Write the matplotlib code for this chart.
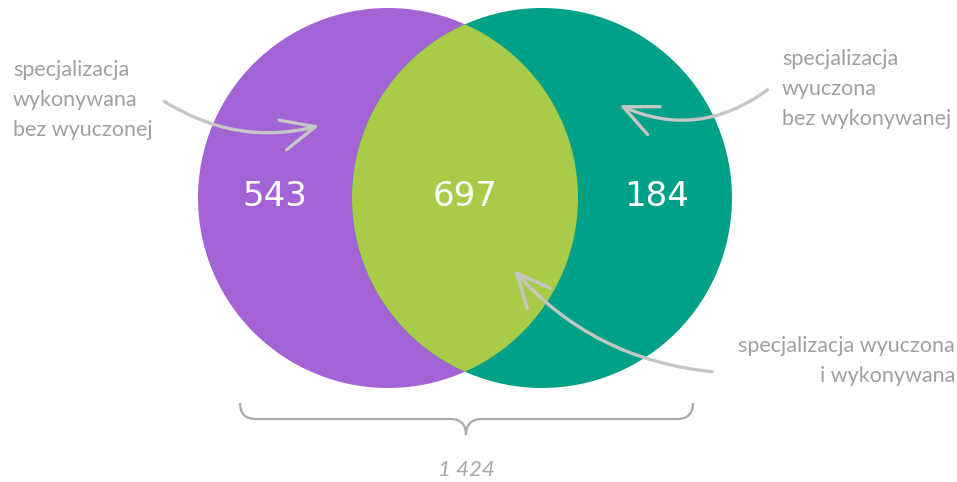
import numpy as np
import matplotlib.pyplot as plt
from matplotlib.patches import Circle, FancyArrowPatch
from matplotlib.path import Path
from matplotlib.patches import PathPatch

# data
region_labels = ["specjalizacja\nwykonywana\nbez wyuczonej",
                 "specjalizacja wyuczona\ni wykonywana",
                 "specjalizacja\nwyuczona\nbez wykonywanej"]
counts = [543, 697, 184]
total_label = "1 424"
colors = ["#a463d5", "#a8cb48", "#00a187"]

W, H = 957, 482
fig = plt.figure(figsize=(W / 100, H / 100), dpi=100)
ax = fig.add_axes([0, 0, 1, 1])
ax.set_xlim(0, W)
ax.set_ylim(H, 0)
ax.set_aspect('equal')
ax.axis('off')

r = 190
left_c = (388, 198)
right_c = (542, 198)

ax.add_patch(Circle(left_c, r, color=colors[0], lw=0))
ax.add_patch(Circle(right_c, r, color=colors[2], lw=0))
# intersection: right circle in lime, clipped by the left one
inter = Circle(right_c, r, color=colors[1], lw=0)
ax.add_patch(inter)
inter.set_clip_path(Circle(left_c, r, transform=ax.transData))

# numbers
num_x = [275, 465, 657]
for x, n in zip(num_x, counts):
    ax.text(x, 196, str(n), color="white", fontsize=24.5, ha="center", va="center",
            family="DejaVu Sans")

hand = dict(color="#a0a0a0", fontsize=15.5, family="Lato", linespacing=1.6)
ax.text(13, 100, region_labels[0], ha="left", va="center", **hand)
ax.text(782, 89, region_labels[2], ha="left", va="center", **hand)
ax.text(955, 361, region_labels[1], ha="right", va="center", multialignment="right", **hand)

akw = dict(arrowstyle="->,head_length=11,head_width=5", color="#c6c6c6", lw=2.4,
           mutation_scale=2.2)
ax.add_patch(FancyArrowPatch((162, 100), (322, 125), connectionstyle="arc3,rad=0.22", **akw))
ax.add_patch(FancyArrowPatch((770, 88), (617, 104), connectionstyle="arc3,rad=-0.3", **akw))
ax.add_patch(FancyArrowPatch((715, 372), (512, 268), connectionstyle="arc3,rad=-0.2", **akw))

# brace
x0, x1, xm = 240, 693, 466
yt, yb, yp = 403, 419, 435
verts = [(x0, yt), (x0, yb), (x0 + 16, yb),
         (xm - 16, yb),
         (xm, yb), (xm, yp),
         (xm, yb), (xm + 16, yb),
         (x1 - 16, yb),
         (x1, yb), (x1, yt)]
codes = [Path.MOVETO, Path.CURVE3, Path.CURVE3,
         Path.LINETO,
         Path.CURVE3, Path.CURVE3,
         Path.CURVE3, Path.CURVE3,
         Path.LINETO,
         Path.CURVE3, Path.CURVE3]
ax.add_patch(PathPatch(Path(verts, codes), fill=False, edgecolor="#aaaaaa", lw=1.6))

ax.text(xm, 470, total_label, ha="center", va="center", color="#a8a8a8", fontsize=16,
        family="Lato", style="italic")

fig.savefig("out.png", dpi=100)
